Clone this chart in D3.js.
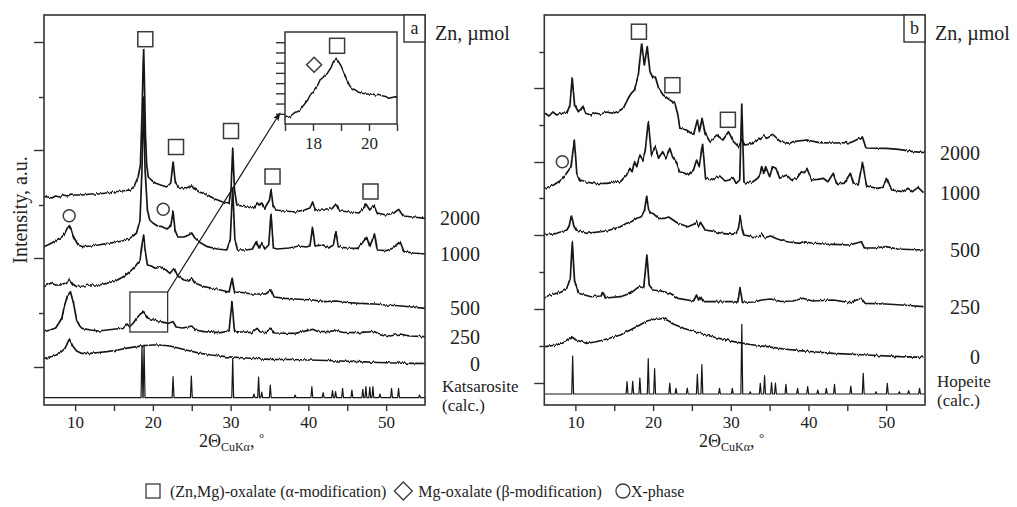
<!DOCTYPE html>
<html><head><meta charset="utf-8">
<script src="https://cdn.jsdelivr.net/npm/d3@7"></script>
<style>
body{margin:0;background:#fff}
svg{display:block}
text{font-family:"Liberation Serif","Times New Roman",serif;fill:#222}
</style>
</head><body>
<svg id="chart" width="1017" height="507"></svg>
<script>
// ---------------- DATA (2θ, intensity a.u.) ----------------
const xTicks = [10, 20, 30, 40, 50];
const xMinorTicks = [15, 25, 35, 45];
const yMajorA = [38, 147, 255, 363];
const yMinorA = [92, 200, 308];
const yMajorB = [22, 96, 170, 243, 317];
const yMinorB = [59, 133, 207, 280, 353];
const insetXTicks = [17, 18, 19, 20, 21];
const insetXLabels = [18, 20];
const insetYTicks = [1, 2, 3, 4, 5, 6, 7, 8];

const labelsA = ["2000", "1000", "500", "250", "0"];
const labelsB = ["2000", "1000", "500", "250", "0"];

const a2000 = [[6.0,208.3],[6.5,208],[7.0,207],[7.5,209],[8.0,208],[8.5,210],[9.0,209],[9.5,211],[10.0,210],[11,210],[12,211],[13,211],[14,212],[15,213],[16,214],[17.1,215],[17.6,219],[18.1,228],[18.4,240],[18.6,290],[18.75,340],[18.82,356],[18.9,330],[19.05,270],[19.2,242],[19.4,228],[19.8,225],[20.3,222],[21.0,220],[21.8,218],[22.3,222],[22.6,243],[22.9,222],[23.3,217],[24.0,216],[24.6,218],[25.0,220],[25.4,216],[26.0,213],[27.0,210],[28.0,206],[29.0,203],[29.8,202],[30.05,215],[30.27,257],[30.5,215],[30.8,200],[32.0,198],[33.0,197],[33.4,202],[33.7,200],[34.0,202],[34.4,197],[35.0,205],[35.2,215],[35.45,200],[35.8,195],[37.0,194],[38.3,193],[39.5,195],[40.2,197],[40.55,203],[40.9,195],[41.9,196],[43.0,196],[43.55,201],[44.0,194],[45.5,193],[46.5,192],[47.1,197],[47.4,201],[47.9,195],[48.45,200],[48.9,192],[50.0,190],[51.0,192],[51.6,195.7],[52.2,189],[53.5,188],[55,186.7]];

const a1000 = [[6.0,158.3],[7.0,162],[7.6,165],[8.3,168],[8.7,172],[9.0,177],[9.26,179.3],[9.5,176],[9.8,168.3],[10.1,164],[10.4,160],[11.0,158.3],[12.0,159],[13.0,160],[14.1,161.7],[15.5,163],[16.6,165],[17.3,168],[17.9,172],[18.35,185],[18.6,235],[18.82,308],[19.0,235],[19.3,195],[19.6,185],[20.0,182],[20.6,179],[21.2,178.3],[21.8,176],[22.3,179],[22.6,193.3],[22.85,175],[23.2,168],[24.0,168],[24.6,170],[25.0,172],[25.4,167],[25.9,163.3],[27.0,158.3],[28.3,156],[29.5,155],[29.95,165],[30.27,217],[30.55,165],[30.9,155],[32.0,155],[32.8,156],[33.3,163.3],[33.65,157],[34.0,162.3],[34.4,156],[34.9,160],[35.2,191.7],[35.5,157],[36.0,156],[37.5,157],[38.8,159],[39.7,158],[40.2,159],[40.55,177.7],[40.85,159],[41.9,160],[42.6,157],[43.2,160],[43.55,173.3],[43.85,158.3],[45.0,157],[46.3,156.7],[46.9,161.7],[47.5,167.7],[47.9,158.3],[48.5,171],[48.85,155],[50.0,154.3],[50.9,157],[51.3,160],[51.8,163.3],[52.3,153.3],[53.5,152],[55,151]];

const a500 = [[6.0,118.3],[6.9,122],[7.5,120],[8.1,120],[8.8,122],[9.26,125.7],[9.7,121],[10.2,118.3],[11.0,119],[11.9,120],[13.0,120],[14.1,121.7],[15.2,124],[16.2,128.3],[17.0,133],[17.7,138.3],[18.35,145],[18.6,160],[18.82,170],[19.0,155],[19.3,140],[19.8,139],[20.3,136.7],[21.1,138.3],[21.7,135],[22.2,131.7],[22.75,136.7],[23.2,129],[24.0,125],[24.6,124],[25.0,126.7],[25.4,122],[26.6,118.3],[27.5,117],[28.7,115],[29.8,113],[30.2,126.7],[30.5,113],[31.5,112.5],[32.7,111],[34.5,111],[35.2,115],[35.6,108],[37.0,106.7],[38.3,106],[40.55,105],[42.0,103.3],[43.55,104],[45,102.5],[46.5,101.7],[48.5,101],[50,100],[52,99],[55,96.7]];

const a250 = [[6.0,73.3],[6.8,75],[7.5,77],[7.9,81.7],[8.3,87],[8.6,98.3],[9.0,109],[9.4,113.3],[9.8,101.7],[10.2,85],[10.6,79],[10.9,76.7],[12,75],[13,74],[14.1,75],[15.2,76],[16.2,76.7],[16.7,81],[17.0,78.3],[17.5,82],[17.9,86.7],[18.4,91],[18.82,93.3],[19.4,86.7],[20.2,85],[20.9,83.3],[22.0,81.7],[22.6,83.3],[23.0,78],[23.8,77],[24.5,78],[25.0,79],[25.5,75],[26.6,73.3],[28.7,72.3],[29.8,74],[30.17,103.3],[30.5,73.3],[31.5,73],[32.7,72.3],[33.4,76.7],[33.8,73],[34.5,72.5],[35.2,76.7],[35.6,72],[38.3,71.7],[40.55,75.7],[41.2,73.5],[42.5,73.3],[43.55,74.3],[44.5,72.5],[46.5,72.3],[48.45,73.5],[49,71.5],[50.5,69],[51.8,71],[53,69],[55,68.3]];

const a0 = [[6.0,46.7],[7.0,48.5],[7.6,50],[8.2,53],[8.7,56.7],[9.26,66],[9.7,59],[10.2,54],[10.8,51.7],[12,51.7],[13,52.5],[14.1,53.3],[15.5,55],[16.5,56.7],[17.9,58.3],[19.0,59.5],[20.0,60],[20.9,60],[22.2,59],[23.5,56.5],[24.8,54],[26.1,51.7],[27.5,50],[29.4,48.3],[31.0,47.5],[33.0,46.5],[35,45.7],[37.9,45.5],[40,45],[42.5,44.5],[44,44],[46.5,43.3],[49,42.5],[51,42],[53.8,41.7],[55,41.5]];

// Katsarosite (calc.): peak positions and heights, baseline level
const katsBase = 7.3;
const katsPos = [18.6,18.87,22.6,24.95,30.27,33.0,33.6,34.0,35.1,38.3,40.45,41.9,43.1,43.5,44.4,45.6,47.0,47.4,47.9,48.3,49.2,50.7,51.6,54.3];
const katsInt = [59.5,60,28.3,29,46.5,11,28,13,20,10,18.3,12.3,14.3,13.3,16.7,15,15.7,18.3,18,18.3,11,16.7,16.7,10];

const b2000 = [[6.1,291.7],[6.6,289],[7.1,293],[7.6,290],[8.2,292],[8.9,291.7],[9.3,300],[9.6,326.7],[9.9,300],[10.4,293.3],[10.94,298.3],[11.3,291.7],[12.0,290],[12.6,292],[13.2,290.7],[14.0,293],[14.9,291.7],[15.6,294],[16.16,296.7],[16.8,306.7],[17.2,311.7],[17.6,315],[18.1,330],[18.53,361.7],[18.87,340],[19.25,358.3],[19.6,333.3],[20.0,327],[20.3,328],[20.7,317],[21.3,310],[22.17,305],[22.8,301.7],[23.2,290],[23.45,276.7],[24.3,275],[25.2,270],[25.7,285],[26.0,273.3],[26.3,286.7],[26.7,272],[27.3,263.3],[28.2,270],[29.0,265],[29.7,273.3],[30.35,263.3],[31.0,258.3],[31.45,265],[31.8,260],[32.9,261.7],[34.2,269],[34.6,266.7],[35.5,270],[36.4,263.3],[37.6,261.7],[38.0,263.3],[39.8,265],[41.4,262.3],[43.1,262],[45.4,262.3],[46.95,268],[47.4,257],[50.0,256.7],[51.6,255.7],[53.5,253.3],[55,252.3]];

const b1000 = [[6.1,216.7],[7.2,220],[8.0,224],[8.4,226.7],[9.0,233.3],[9.45,238.3],[9.86,265],[10.2,230],[10.6,225],[11.5,223],[12.3,221.7],[14.0,221.7],[15.8,223.3],[16.6,230],[17.0,236.7],[17.3,233.3],[17.6,243.3],[17.9,238.3],[18.3,250],[18.7,245],[19.0,255],[19.38,283.3],[19.8,250],[20.3,258.3],[20.7,246.7],[21.23,253.3],[21.7,246.7],[22.15,256.7],[22.5,248.3],[22.95,243.3],[23.4,233.3],[24.0,232],[24.5,230],[25.2,235],[25.6,245],[25.95,238.3],[26.37,261.7],[26.75,226.7],[27.5,225],[28.0,227],[28.6,229],[29.25,224],[29.8,225],[30.3,227.3],[30.7,221.7],[31.15,225],[31.42,301],[31.7,223],[32.0,221.7],[32.8,223],[33.5,227],[33.75,230],[34.0,238.3],[34.25,231.7],[34.5,238.3],[35.0,228.3],[35.4,238.3],[35.8,236.7],[36.3,226.7],[37.2,230],[37.8,225],[38.5,226.7],[39.1,233.3],[39.5,232.3],[39.8,236.7],[40.4,225],[41.2,225.7],[41.9,226.7],[42.5,223.3],[43.2,231.7],[43.6,221.7],[44.6,221.7],[45.4,231.7],[45.8,221],[46.4,220],[46.95,242.3],[47.5,219],[48.8,216.7],[49.6,217.7],[50.1,226.7],[50.7,215],[52.1,213.3],[52.8,216.7],[53.4,213.3],[54.1,217.7],[54.8,212.3]];

const b500 = [[6.1,170],[7.6,171.7],[8.9,175],[9.2,179],[9.5,190],[9.8,179],[10.1,175],[11.4,171.7],[14.0,174],[15.8,178.3],[16.6,181.7],[17.2,183.3],[17.9,186.7],[18.5,188.3],[18.9,195],[19.17,208.3],[19.45,195],[19.7,192],[20.0,191.7],[20.7,186.7],[21.5,186.7],[22.0,188],[23.2,181.7],[24.5,178.3],[25.3,181],[25.6,183.3],[25.85,179],[26.1,182.7],[26.7,175],[28.0,173.3],[28.8,171.7],[30.1,170.7],[30.7,171.7],[31.0,177],[31.2,188.3],[31.45,177],[31.7,170],[32.7,168.3],[33.7,169],[34.0,171],[34.4,167.3],[35.1,169],[36.0,166],[36.8,164],[37.5,163],[38.9,161.7],[39.3,163.3],[40.4,162],[42,161],[43.2,160.7],[45.3,160],[46.8,163.3],[47.2,157],[48.5,157],[50.0,158.3],[51.5,156],[53,155.5],[54.8,155]];

const b250 = [[6.1,108.3],[7.6,111.7],[8.9,116.7],[9.35,126.7],[9.6,163.3],[9.9,123.3],[10.4,111.7],[12.0,108.3],[13.3,109],[13.6,113],[13.9,107],[15.8,108.3],[17.1,111.7],[17.9,116.7],[18.3,118.3],[18.8,117],[19.2,150],[19.5,120],[20.0,115],[21.0,114],[22.2,111.7],[23.2,106.7],[25.2,104],[25.6,110],[25.85,105],[26.1,108.3],[26.5,103.3],[30.1,103.3],[30.9,103],[31.2,117.3],[31.5,102.7],[33.0,103],[34.0,105],[35.1,106],[36.5,103.5],[38.0,104],[39.3,106.7],[40.5,104],[43.2,105],[45.3,102.3],[46.8,106.7],[47.3,101.7],[50.0,101],[52,100],[54.8,98.3]];

const b0 = [[6.1,58.3],[7.6,60],[8.9,65],[9.5,68.3],[10.1,65],[11.4,61.7],[12.5,63],[13.6,65],[15.8,70],[17.5,76.7],[18.3,80],[19.2,84],[20.0,85.5],[20.9,86],[21.3,87],[22.2,83.3],[22.6,81],[24.0,76.5],[26.1,71.7],[28.0,67.5],[30.4,63.3],[32.5,60.5],[34.7,58.3],[36.8,56],[38.9,54.3],[41,53],[43.2,51.7],[47.5,50],[51.8,48.3],[54.8,47.7]];

// Hopeite (calc.)
const hopeBase = 11;
const hopePos = [9.65,16.65,17.38,18.3,19.38,20.2,22.15,22.95,24.4,25.7,26.28,28.55,30.2,31.42,32.5,33.8,34.35,35.25,35.75,37.1,38.6,39.9,41.2,42.3,43.35,45.45,47.05,48.7,50.15,51.7,52.9,54.3];
const hopeInt = [49,23.3,23.7,27,46.5,36.3,22,16.7,17,30.7,40.3,16.7,16.7,80.7,13.3,21.7,29.5,22.5,22,20.7,16.7,18.3,15,16.7,20.7,19,31.7,13.3,21.7,13.3,14.3,16.7];

// Inset (250 µmol sample, 17–21°)
const insetCurve = [[17.0,0.81],[17.1,0.75],[17.18,0.71],[17.27,0.95],[17.36,1.14],[17.45,1.2],[17.54,1.37],[17.63,1.7],[17.72,2.03],[17.81,2.35],[17.9,2.84],[17.99,3.1],[18.08,3.49],[18.17,3.8],[18.25,4.31],[18.34,4.5],[18.43,4.79],[18.5,4.9],[18.55,5.12],[18.64,5.5],[18.73,6.1],[18.83,6.43],[18.91,6.1],[19.0,5.7],[19.09,5.12],[19.21,4.31],[19.33,3.65],[19.42,3.45],[19.51,3.33],[19.63,3.1],[19.75,3.0],[19.87,2.95],[19.99,2.91],[20.1,2.98],[20.23,2.84],[20.35,2.9],[20.47,2.77],[20.6,2.7],[20.7,2.51],[20.82,2.6],[20.94,2.67],[21.0,2.6]];

// Phase markers
const squaresA = [[19.03,365.8],[22.98,258],[30.05,274],[35.39,228.5],[47.99,213.5]];
const circlesA = [[9.24,189.2],[21.33,195.8]];
const squaresB = [[18.18,373.3],[22.49,319.8],[29.63,285.2]];
const circlesB = [[8.32,243.3]];
const insetSquares = [[18.86,7.65]];
const insetDiamonds = [[18.04,5.8]];
// zoom box (2θ range, intensity range) and arrow target
const zoomBox = [[17.05,73],[21.9,113]];
const arrowEnd = [36.35,292];

const legendItems = [
  {sym:"square", text:"(Zn,Mg)-oxalate (α-modification)"},
  {sym:"diamond", text:"Mg-oxalate (β-modification)"},
  {sym:"circle", text:"X-phase"}
];

// ---------------- DRAWING ----------------
const svg = d3.select("#chart");
const LINE = "#161616", FRAME = "#333", MARK = "#3a3a3a";

const defs = svg.append("defs");
defs.append("marker")
  .attr("id","arr").attr("viewBox","0 0 10 10").attr("refX",9).attr("refY",5)
  .attr("markerWidth",9).attr("markerHeight",9).attr("orient","auto-start-reverse")
  .attr("markerUnits","userSpaceOnUse")
  .append("path").attr("d","M0,1.5 L10,5 L0,8.5 L2.5,5 Z").attr("fill",LINE);
// rendering texture for measured (noisy) patterns: vertical-only jitter
const flt = defs.append("filter").attr("id","grain").attr("filterUnits","userSpaceOnUse")
  .attr("x",0).attr("y",0).attr("width",1017).attr("height",507);
flt.append("feTurbulence").attr("type","fractalNoise").attr("baseFrequency","0.55 0.04")
  .attr("numOctaves",2).attr("seed",7).attr("result","n0");
const ct = flt.append("feComponentTransfer").attr("in","n0").attr("result","n");
ct.append("feFuncB").attr("type","linear").attr("slope",0).attr("intercept",0.5);
flt.append("feDisplacementMap").attr("in","SourceGraphic").attr("in2","n")
  .attr("scale",3.4).attr("xChannelSelector","B").attr("yChannelSelector","R");

function calcProfile(pos, ints, base, w) {
  const pts = [[6, base]];
  pos.forEach((p, i) => { pts.push([p - w, base], [p, ints[i]], [p + w, base]); });
  pts.push([55, base]);
  return pts;
}

function panel(cfg) {
  const x = d3.scaleLinear().domain([6, 55]).range([cfg.left, cfg.right]);
  const y = d3.scaleLinear().domain([0, 390]).range([405, 15]);
  const g = svg.append("g");
  const line = d3.line().x(d => x(d[0])).y(d => y(d[1]));

  // curves
  const cg = g.append("g").attr("filter","url(#grain)");
  cfg.series.forEach(s => {
    cg.append("path").attr("d", line(s)).attr("fill","none")
      .attr("stroke",LINE).attr("stroke-width",1.7).attr("stroke-linejoin","round");
  });
  g.append("path").attr("d", line(cfg.calc)).attr("fill","none")
    .attr("stroke",LINE).attr("stroke-width",1.2).attr("stroke-linejoin","round");

  // frame
  g.append("rect").attr("x",cfg.left).attr("y",15).attr("width",cfg.right-cfg.left).attr("height",390)
    .attr("fill","none").attr("stroke",FRAME).attr("stroke-width",1.6);

  // axes
  const xa = g.append("g").attr("transform","translate(0,405)")
    .call(d3.axisBottom(x).tickValues(xTicks).tickSize(6).tickPadding(5).tickFormat(d3.format("d")));
  const xm = g.append("g").attr("transform","translate(0,405)")
    .call(d3.axisBottom(x).tickValues(xMinorTicks).tickSize(6).tickFormat(""));
  const ya = g.append("g").attr("transform",`translate(${cfg.left},0)`)
    .call(d3.axisLeft(y).tickValues(cfg.yMajor).tickSize(10).tickFormat(""));
  const ym = g.append("g").attr("transform",`translate(${cfg.left},0)`)
    .call(d3.axisLeft(y).tickValues(cfg.yMinor).tickSize(5).tickFormat(""));
  [xa,xm,ya,ym].forEach(a => {
    a.select(".domain").remove();
    a.selectAll("line").attr("stroke",FRAME).attr("stroke-width",1.4);
  });
  xa.selectAll("text").attr("font-size",17).attr("fill","#222")
    .attr("font-family",'"Liberation Serif",serif');

  // x title
  const cx = (cfg.left + cfg.right) / 2 - 3;
  const t = g.append("text").attr("x",cx).attr("y",447).attr("text-anchor","middle").attr("font-size",18);
  t.append("tspan").text("2Θ");
  t.append("tspan").attr("font-size",12).attr("dy",4).text("CuKα");
  t.append("tspan").attr("dy",-4).text(", ");
  t.append("tspan").attr("font-size",13).attr("dy",-5).text("°");

  // series labels aligned with curve ends
  cfg.series.forEach((s, i) => {
    g.append("text").attr("x",cfg.labelRight).attr("y",y(s[s.length-1][1]) + 7)
      .attr("text-anchor","end").attr("font-size",20).text(cfg.labels[i]);
  });
  g.append("text").attr("x",cfg.right+10).attr("y",40).attr("font-size",20).text("Zn, µmol");
  g.append("text").attr("x",cfg.calcLabelX).attr("y",cfg.calcLabelY).attr("font-size",17).text(cfg.calcName);
  g.append("text").attr("x",cfg.calcLabelX).attr("y",cfg.calcLabelY+19).attr("font-size",17).text("(calc.)");

  // panel letter box
  g.append("rect").attr("x",cfg.right-21).attr("y",15).attr("width",21).attr("height",27)
    .attr("fill","#fff").attr("stroke",FRAME).attr("stroke-width",1.4);
  g.append("text").attr("x",cfg.right-10.5).attr("y",34).attr("text-anchor","middle")
    .attr("font-size",18).text(cfg.letter);

  // markers
  cfg.squares.forEach(d => g.append("rect").attr("x",x(d[0])-7.5).attr("y",y(d[1])-7.5)
    .attr("width",15).attr("height",15).attr("fill","none").attr("stroke",MARK).attr("stroke-width",1.5));
  cfg.circles.forEach(d => g.append("circle").attr("cx",x(d[0])).attr("cy",y(d[1])).attr("r",6)
    .attr("fill","none").attr("stroke",MARK).attr("stroke-width",1.5));
  return {x, y, g};
}

const A = panel({left:44, right:425, series:[a2000,a1000,a500,a250,a0], labels:labelsA,
  calc: calcProfile(katsPos, katsInt, katsBase, 0.12), yMajor:yMajorA, yMinor:yMinorA,
  labelRight:480, calcName:"Katsarosite", calcLabelX:442, calcLabelY:392, letter:"a",
  squares:squaresA, circles:circlesA});
const B = panel({left:544.3, right:925, series:[b2000,b1000,b500,b250,b0], labels:labelsB,
  calc: calcProfile(hopePos, hopeInt, hopeBase, 0.12), yMajor:yMajorB, yMinor:yMinorB,
  labelRight:980, calcName:"Hopeite", calcLabelX:937, calcLabelY:387, letter:"b",
  squares:squaresB, circles:circlesB});

// zoom box and arrow in panel a
svg.append("rect")
  .attr("x",A.x(zoomBox[0][0])).attr("y",A.y(zoomBox[1][1]))
  .attr("width",A.x(zoomBox[1][0])-A.x(zoomBox[0][0])).attr("height",A.y(zoomBox[0][1])-A.y(zoomBox[1][1]))
  .attr("fill","none").attr("stroke",FRAME).attr("stroke-width",1.3);
svg.append("line")
  .attr("x1",A.x(zoomBox[1][0])).attr("y1",A.y(zoomBox[1][1]))
  .attr("x2",A.x(arrowEnd[0])).attr("y2",A.y(arrowEnd[1]))
  .attr("stroke",LINE).attr("stroke-width",1.2).attr("marker-end","url(#arr)");

// inset
const xi = d3.scaleLinear().domain([17,21]).range([285,397]);
const yi = d3.scaleLinear().domain([0,9]).range([124,32]);
const gi = svg.append("g");
gi.append("rect").attr("x",285).attr("y",32).attr("width",112).attr("height",92)
  .attr("fill","#fff").attr("stroke",FRAME).attr("stroke-width",1.5);
gi.append("g").attr("filter","url(#grain)").append("path")
  .attr("d", d3.line().x(d=>xi(d[0])).y(d=>yi(d[1]))(insetCurve))
  .attr("fill","none").attr("stroke",LINE).attr("stroke-width",1.5).attr("stroke-linejoin","round");
const ix = gi.append("g").attr("transform","translate(0,124)")
  .call(d3.axisBottom(xi).tickValues(insetXTicks).tickSize(7).tickPadding(6)
    .tickFormat(d => insetXLabels.includes(d) ? d : ""));
const iy = gi.append("g").attr("transform","translate(285,0)")
  .call(d3.axisLeft(yi).tickValues(insetYTicks).tickSize(9).tickFormat(""));
[ix, iy].forEach(a => { a.select(".domain").remove(); a.selectAll("line").attr("stroke",FRAME).attr("stroke-width",1.4); });
ix.selectAll("text").attr("font-size",17).attr("fill","#222").attr("font-family",'"Liberation Serif",serif');
insetSquares.forEach(d => gi.append("rect").attr("x",xi(d[0])-7.5).attr("y",yi(d[1])-7.5)
  .attr("width",15).attr("height",15).attr("fill","none").attr("stroke",MARK).attr("stroke-width",1.5));
insetDiamonds.forEach(d => gi.append("path")
  .attr("d",`M${xi(d[0])},${yi(d[1])-7.5} l7.5,7.5 l-7.5,7.5 l-7.5,-7.5 Z`)
  .attr("fill","none").attr("stroke",MARK).attr("stroke-width",1.5));

// y-axis title
svg.append("text").attr("transform","translate(27,210) rotate(-90)").attr("text-anchor","middle")
  .attr("font-size",20).text("Intensity, a.u.");

// legend
let lx = 146;
const ly = 491;
legendItems.forEach((it, i) => {
  if (it.sym === "square") {
    svg.append("rect").attr("x",lx).attr("y",ly-7).attr("width",14).attr("height",14)
      .attr("fill","none").attr("stroke",MARK).attr("stroke-width",1.3);
    lx += 24;
  } else if (it.sym === "diamond") {
    svg.append("path").attr("d",`M${lx+9},${ly-9} l9,9 l-9,9 l-9,-9 Z`)
      .attr("fill","none").attr("stroke",MARK).attr("stroke-width",1.3);
    lx += 24;
  } else {
    svg.append("circle").attr("cx",lx+7).attr("cy",ly).attr("r",7)
      .attr("fill","none").attr("stroke",MARK).attr("stroke-width",1.3);
    lx += 15;
  }
  const tx = svg.append("text").attr("x",lx).attr("y",ly+6).attr("font-size",16).text(it.text);
  lx += tx.node().getComputedTextLength() + (i === 0 ? 8 : 14);
});
</script>
</body></html>
